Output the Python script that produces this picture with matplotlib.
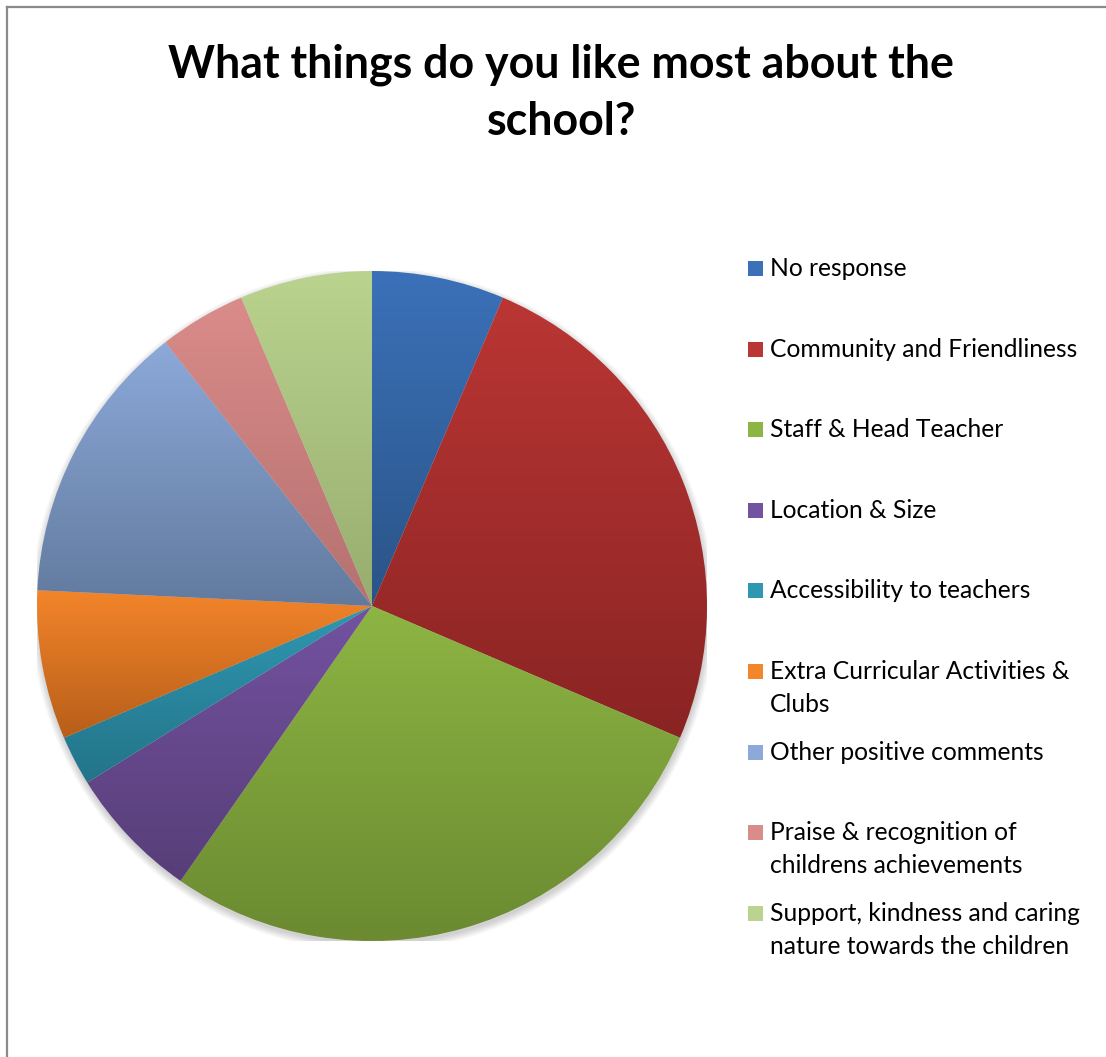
import numpy as np
import matplotlib
matplotlib.use("Agg")
import matplotlib.pyplot as plt
from matplotlib.colors import LinearSegmentedColormap
from matplotlib.lines import Line2D
from matplotlib.patches import Rectangle, Circle

# data (percent of responses)
labels = ["No response",
          "Community and Friendliness",
          "Staff & Head Teacher",
          "Location & Size",
          "Accessibility to teachers",
          "Extra Curricular Activities &\nClubs",
          "Other positive comments",
          "Praise & recognition of\nchildrens achievements",
          "Support, kindness and caring\nnature towards the children"]
values = [6.4, 25.1, 28.3, 6.5, 2.4, 7.2, 13.7, 4.2, 6.4]

# gradient colours per slice: light at top, dark at bottom
tops = ["#3B71B9", "#BA3634", "#8DB543", "#7352A0", "#2F97B2",
        "#F3852A", "#8CA9D9", "#DA8C8A", "#BAD38E"]
bottoms = ["#2A5487", "#892423", "#6B8A31", "#573E78", "#237488",
           "#B75E1A", "#627A9E", "#B47170", "#97AD6F"]

W, H = 1106, 1057
fig = plt.figure(figsize=(W / 100, H / 100), dpi=100)
fig.patch.set_facecolor("white")

# chart border (top + left visible)
fig.add_artist(Line2D([7 / W, 1], [1 - 7 / H, 1 - 7 / H], color="#8a8a8a", lw=1.6))
fig.add_artist(Line2D([7 / W, 7 / W], [0, 1 - 7 / H], color="#8a8a8a", lw=1.6))

cx, cy, r = 372, 606, 335
ax = fig.add_axes([(cx - r) / W, (H - cy - r) / H, 2 * r / W, 2 * r / H])
ax.set_xlim(-1, 1)
ax.set_ylim(-1, 1)
ax.set_aspect("equal")
ax.axis("off")

# soft shadow under the pie
for k in range(6):
    ax.add_patch(Circle((0.002, -0.010), 1.0 + 0.004 * k, color="black",
                        alpha=0.03, lw=0, zorder=0))

wedges, _ = ax.pie(values, startangle=90, counterclock=False, radius=1,
                   wedgeprops=dict(linewidth=0))

grad = np.linspace(0, 1, 256).reshape(-1, 1)
for w, c1, c2 in zip(wedges, tops, bottoms):
    ext = w.get_path().get_extents()
    cmap = LinearSegmentedColormap.from_list("g", [c2, c1])
    w.set_facecolor("none")
    im = ax.imshow(grad, cmap=cmap, origin="lower", aspect="auto",
                   extent=[ext.x0, ext.x1, ext.y0, ext.y1], zorder=1,
                   interpolation="bilinear")
    im.set_clip_path(w)
ax.set_xlim(-1, 1)
ax.set_ylim(-1, 1)

# title
fig.text(561 / W, 1 - 78 / H, "What things do you like most about the",
         ha="center", va="baseline", fontsize=32.2, fontweight="bold",
         family="Lato")
fig.text(562 / W, 1 - 135 / H, "school?",
         ha="center", va="baseline", fontsize=32.2, fontweight="bold",
         family="Lato")

# legend: equal slots, first line aligned
base0 = 276
step = 80.6
line_gap = 33
for i, (lab, c1) in enumerate(zip(labels, tops)):
    b = base0 + i * step
    fig.add_artist(Rectangle((748 / W, 1 - b / H), 15 / W, 15 / H,
                             transform=fig.transFigure, facecolor=c1,
                             edgecolor="none"))
    for j, line in enumerate(lab.split("\n")):
        fig.text(770 / W, 1 - (b + j * line_gap) / H, line, ha="left",
                 va="baseline", fontsize=17.7, family="Lato", color="black")

fig.savefig("out.png", dpi=100, facecolor="white")
